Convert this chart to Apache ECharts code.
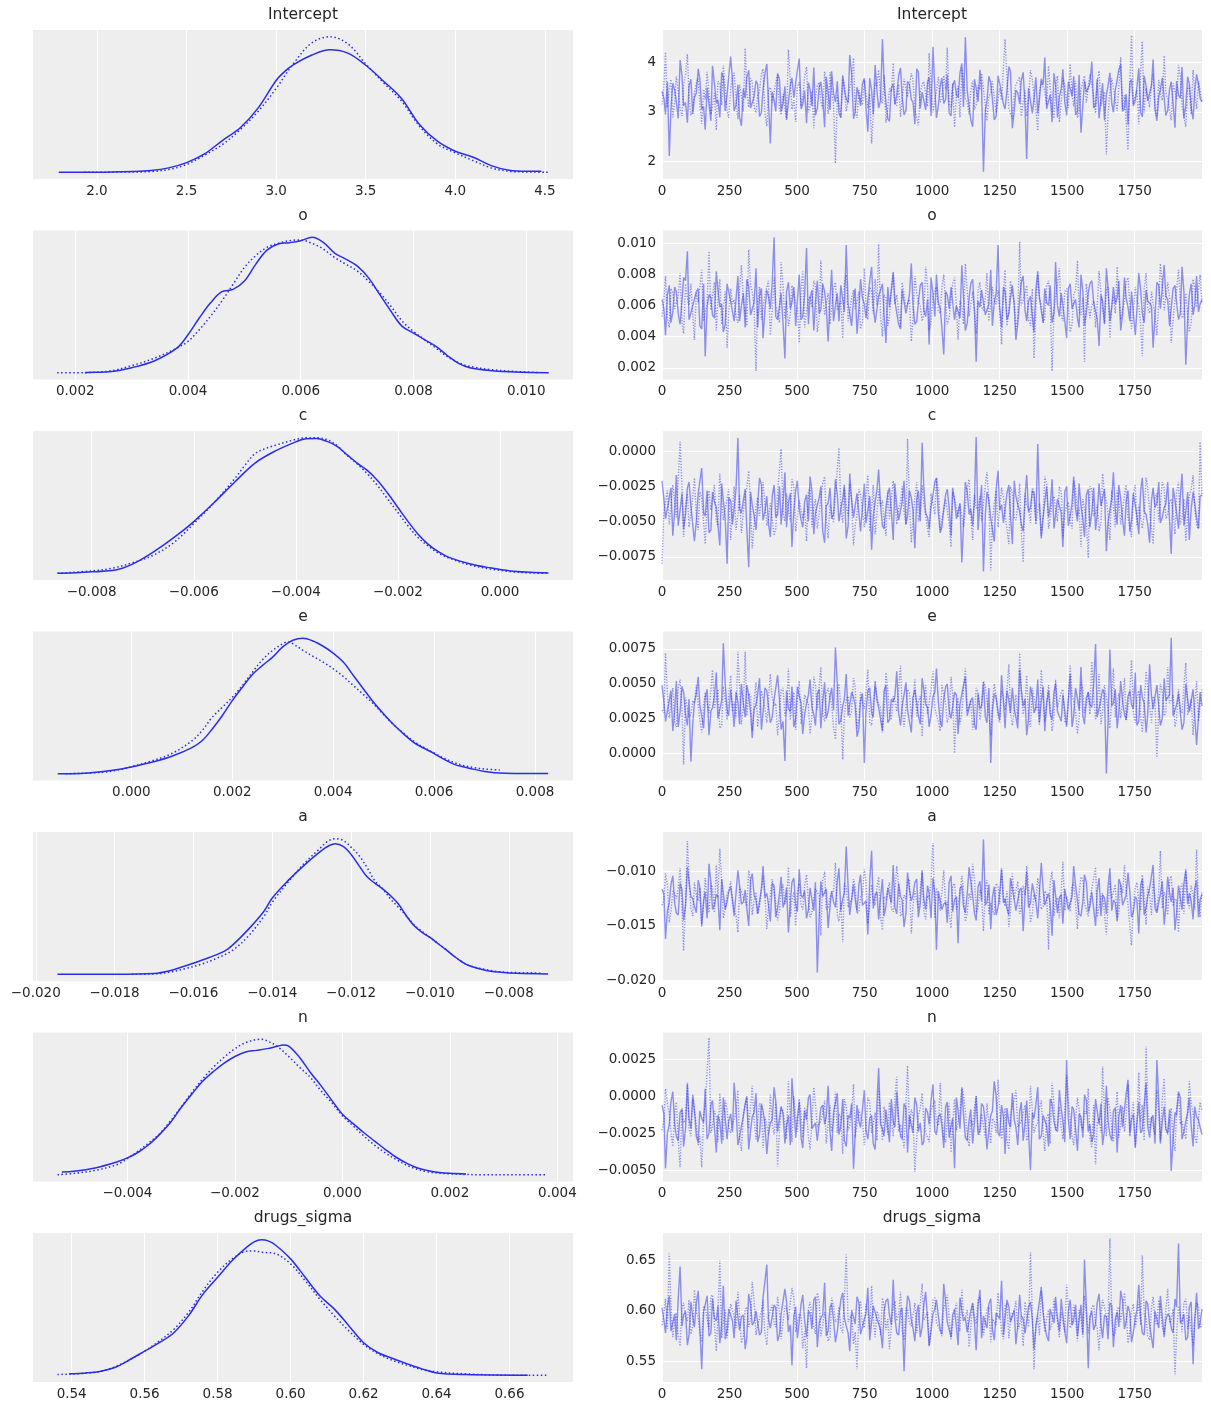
<!DOCTYPE html>
<html><head><meta charset="utf-8">
<script src="https://cdn.jsdelivr.net/npm/echarts@6/dist/echarts.min.js"></script>
<style>html,body{margin:0;padding:0;background:#fff}#chart{width:1211px;height:1411px}</style>
</head><body><div id="chart"></div>
<script>
// ---------------- DATA ----------------
const paramNames = ['Intercept', 'o', 'c', 'e', 'a', 'n', 'drugs_sigma'];
// unit multipliers for the values stored below (o..n are stored in units of 1e-3)
const valueUnits = [1, 1e-3, 1e-3, 1e-3, 1e-3, 1e-3, 1];
const drawsPerChain = 2000;

// tick labels
const interceptKdeTicks = [2.0, 2.5, 3.0, 3.5, 4.0, 4.5];
const interceptTraceTicks = [2, 3, 4];
const oKdeTicks = [0.002, 0.004, 0.006, 0.008, 0.010];
const oTraceTicks = [0.002, 0.004, 0.006, 0.008, 0.010];
const cKdeTicks = [-0.008, -0.006, -0.004, -0.002, 0];
const cTraceTicks = [-0.0075, -0.005, -0.0025, 0];
const eKdeTicks = [0, 0.002, 0.004, 0.006, 0.008];
const eTraceTicks = [0, 0.0025, 0.005, 0.0075];
const aKdeTicks = [-0.020, -0.018, -0.016, -0.014, -0.012, -0.010, -0.008];
const aTraceTicks = [-0.020, -0.015, -0.010];
const nKdeTicks = [-0.004, -0.002, 0, 0.002, 0.004];
const nTraceTicks = [-0.005, -0.0025, 0, 0.0025];
const sigmaKdeTicks = [0.54, 0.56, 0.58, 0.60, 0.62, 0.64, 0.66];
const sigmaTraceTicks = [0.55, 0.60, 0.65];
const traceXTicks = [0, 250, 500, 750, 1000, 1250, 1500, 1750];

// KDE curves: [value, relative density]
const interceptKde1 = [[1.787,0],[2.0,0],[2.2,0.005],[2.3,0.012],[2.4,0.032],[2.5,0.071],[2.6,0.135],[2.7,0.234],[2.8,0.328],[2.9,0.475],[3.0,0.677],[3.05,0.746],[3.1,0.796],[3.2,0.865],[3.3,0.904],[3.4,0.879],[3.5,0.79],[3.6,0.672],[3.7,0.544],[3.8,0.352],[3.9,0.229],[4.0,0.155],[4.1,0.111],[4.2,0.049],[4.3,0.015],[4.4,0.007],[4.48,0.007]];
const interceptKde2 = [[1.93,0],[2.2,0.002],[2.3,0.005],[2.4,0.02],[2.5,0.057],[2.6,0.126],[2.7,0.204],[2.8,0.315],[2.9,0.45],[3.0,0.618],[3.1,0.808],[3.2,0.956],[3.3,1.0],[3.4,0.948],[3.5,0.80],[3.6,0.66],[3.7,0.525],[3.8,0.34],[3.9,0.209],[4.0,0.143],[4.1,0.086],[4.2,0.032],[4.3,0.007],[4.4,0.002],[4.52,0]];
const oKde1 = [[2.17,0],[2.2,0.002],[2.6,0.007],[3.0,0.037],[3.4,0.087],[3.8,0.181],[4.0,0.28],[4.2,0.404],[4.4,0.516],[4.6,0.598],[4.8,0.615],[5.0,0.677],[5.2,0.80],[5.4,0.905],[5.6,0.95],[5.8,0.96],[6.0,0.975],[6.2,1.0],[6.4,0.963],[6.6,0.883],[6.8,0.839],[7.0,0.789],[7.2,0.702],[7.4,0.578],[7.6,0.454],[7.8,0.342],[8.0,0.293],[8.2,0.243],[8.4,0.194],[8.6,0.127],[8.8,0.069],[9.0,0.037],[9.4,0.015],[9.8,0.005],[10.4,0]];
const oKde2 = [[1.68,0],[2.0,0],[2.6,0.012],[3.0,0.052],[3.4,0.107],[3.8,0.181],[4.0,0.231],[4.2,0.318],[4.4,0.417],[4.6,0.529],[4.8,0.653],[5.0,0.777],[5.2,0.864],[5.4,0.926],[5.6,0.955],[5.8,0.975],[6.0,0.98],[6.2,0.955],[6.4,0.913],[6.6,0.851],[6.8,0.801],[7.0,0.752],[7.2,0.677],[7.4,0.591],[7.6,0.491],[7.8,0.38],[8.0,0.305],[8.2,0.243],[8.4,0.181],[8.6,0.119],[8.8,0.074],[9.0,0.047],[9.4,0.022],[9.8,0.01],[10.2,0.002]];
const cKde1 = [[-8.67,0],[-8.6,0],[-8.0,0.01],[-7.6,0.02],[-7.4,0.037],[-7.2,0.067],[-7.0,0.107],[-6.6,0.206],[-6.2,0.318],[-6.0,0.381],[-5.6,0.522],[-5.2,0.672],[-4.8,0.813],[-4.4,0.903],[-4.0,0.97],[-3.8,0.993],[-3.6,0.995],[-3.4,0.975],[-3.2,0.938],[-3.0,0.876],[-2.8,0.813],[-2.6,0.759],[-2.4,0.684],[-2.2,0.59],[-2.0,0.485],[-1.8,0.381],[-1.6,0.286],[-1.4,0.211],[-1.2,0.157],[-1.0,0.117],[-0.6,0.07],[-0.2,0.04],[0.2,0.017],[0.6,0.007],[0.95,0.002]];
const cKde2 = [[-8.67,0],[-8.0,0.017],[-7.6,0.037],[-7.2,0.077],[-6.8,0.132],[-6.4,0.224],[-6.0,0.366],[-5.6,0.522],[-5.2,0.697],[-5.0,0.796],[-4.8,0.883],[-4.6,0.92],[-4.4,0.945],[-4.0,0.988],[-3.8,1.0],[-3.6,1.0],[-3.4,0.988],[-3.2,0.945],[-3.0,0.871],[-2.8,0.808],[-2.6,0.734],[-2.4,0.647],[-2.2,0.547],[-2.0,0.448],[-1.8,0.348],[-1.6,0.261],[-1.4,0.199],[-1.2,0.147],[-1.0,0.112],[-0.6,0.062],[-0.2,0.032],[0.2,0.012],[0.6,0.002],[0.95,0]];
const eKde1 = [[-1.46,0],[-1.0,0.002],[-0.6,0.015],[-0.2,0.035],[0.0,0.05],[0.4,0.084],[0.8,0.129],[1.2,0.193],[1.4,0.243],[1.6,0.329],[1.8,0.428],[2.0,0.54],[2.2,0.639],[2.4,0.733],[2.6,0.8],[2.8,0.861],[3.0,0.936],[3.2,0.985],[3.4,1.0],[3.6,0.98],[3.8,0.941],[4.0,0.891],[4.2,0.824],[4.4,0.725],[4.6,0.626],[4.8,0.527],[5.0,0.441],[5.2,0.361],[5.4,0.292],[5.6,0.23],[5.8,0.188],[6.0,0.149],[6.2,0.106],[6.4,0.069],[6.6,0.05],[6.8,0.032],[7.0,0.017],[7.2,0.007],[7.6,0.002],[8.26,0.002]];
const eKde2 = [[-1.3,0],[-0.6,0.01],[-0.2,0.032],[0.0,0.052],[0.4,0.094],[0.8,0.149],[1.2,0.243],[1.4,0.317],[1.6,0.416],[1.8,0.49],[2.0,0.564],[2.2,0.651],[2.4,0.75],[2.6,0.842],[2.8,0.911],[3.0,0.96],[3.1,0.973],[3.2,0.96],[3.4,0.911],[3.6,0.866],[3.8,0.824],[4.0,0.775],[4.2,0.718],[4.4,0.651],[4.6,0.584],[4.8,0.515],[5.0,0.436],[5.2,0.361],[5.4,0.297],[5.6,0.238],[5.8,0.193],[6.0,0.153],[6.2,0.114],[6.4,0.082],[6.6,0.059],[6.8,0.045],[7.0,0.035],[7.3,0.027]];
const aKde1 = [[-19.45,0],[-18.0,0],[-17.0,0.005],[-16.6,0.025],[-16.2,0.062],[-16.0,0.081],[-15.6,0.123],[-15.2,0.173],[-15.0,0.217],[-14.6,0.333],[-14.2,0.469],[-14.0,0.563],[-13.6,0.691],[-13.2,0.802],[-12.8,0.901],[-12.6,0.943],[-12.4,0.963],[-12.2,0.943],[-12.0,0.884],[-11.8,0.802],[-11.6,0.721],[-11.4,0.672],[-11.2,0.63],[-11.0,0.58],[-10.8,0.519],[-10.6,0.432],[-10.4,0.358],[-10.2,0.309],[-10.0,0.272],[-9.8,0.227],[-9.6,0.183],[-9.4,0.136],[-9.2,0.094],[-9.0,0.062],[-8.6,0.03],[-8.2,0.015],[-7.8,0.007],[-7.0,0.002]];
const aKde2 = [[-17.56,0],[-17.0,0.002],[-16.6,0.015],[-16.2,0.042],[-15.8,0.074],[-15.4,0.119],[-15.0,0.178],[-14.6,0.284],[-14.2,0.432],[-14.0,0.531],[-13.6,0.679],[-13.2,0.815],[-12.8,0.926],[-12.6,0.98],[-12.4,1.0],[-12.2,0.988],[-12.0,0.938],[-11.8,0.877],[-11.6,0.79],[-11.4,0.691],[-11.2,0.63],[-11.0,0.556],[-10.8,0.494],[-10.6,0.432],[-10.4,0.365],[-10.2,0.316],[-10.0,0.272],[-9.8,0.227],[-9.6,0.183],[-9.4,0.136],[-9.2,0.094],[-9.0,0.064],[-8.6,0.035],[-8.2,0.017],[-7.8,0.012],[-7.4,0.01],[-7.2,0.007]];
const nKde1 = [[-5.22,0.02],[-5.0,0.025],[-4.6,0.05],[-4.2,0.094],[-4.0,0.124],[-3.8,0.166],[-3.6,0.223],[-3.4,0.298],[-3.2,0.385],[-3.0,0.496],[-2.8,0.596],[-2.6,0.69],[-2.4,0.762],[-2.2,0.824],[-2.0,0.873],[-1.8,0.906],[-1.6,0.918],[-1.4,0.931],[-1.2,0.95],[-1.1,0.958],[-1.0,0.95],[-0.8,0.868],[-0.6,0.757],[-0.4,0.658],[-0.2,0.551],[0.0,0.447],[0.2,0.377],[0.4,0.31],[0.6,0.248],[0.8,0.186],[1.0,0.129],[1.2,0.084],[1.4,0.05],[1.6,0.03],[1.8,0.017],[2.0,0.01],[2.3,0.005]];
const nKde2 = [[-5.3,0],[-5.0,0.01],[-4.6,0.032],[-4.2,0.074],[-4.0,0.119],[-3.8,0.174],[-3.6,0.236],[-3.4,0.303],[-3.2,0.397],[-3.0,0.501],[-2.8,0.608],[-2.6,0.707],[-2.4,0.794],[-2.2,0.868],[-2.0,0.931],[-1.8,0.975],[-1.6,0.998],[-1.5,1.0],[-1.4,0.988],[-1.2,0.943],[-1.0,0.873],[-0.8,0.794],[-0.6,0.72],[-0.4,0.62],[-0.2,0.533],[0.0,0.434],[0.2,0.36],[0.4,0.285],[0.6,0.218],[0.8,0.161],[1.0,0.112],[1.2,0.069],[1.4,0.04],[1.6,0.02],[2.0,0.007],[2.6,0],[3.2,0],[3.8,0]];
const sigmaKde1 = [[0.5393,0.01],[0.544,0.017],[0.548,0.03],[0.552,0.059],[0.556,0.116],[0.56,0.178],[0.564,0.24],[0.568,0.314],[0.572,0.438],[0.576,0.599],[0.58,0.723],[0.584,0.847],[0.588,0.946],[0.59,0.985],[0.592,1.0],[0.594,0.99],[0.596,0.958],[0.6,0.859],[0.604,0.723],[0.608,0.587],[0.612,0.488],[0.616,0.364],[0.62,0.24],[0.624,0.166],[0.628,0.124],[0.632,0.084],[0.636,0.047],[0.64,0.017],[0.648,0.005],[0.665,0]];
const sigmaKde2 = [[0.5361,0.005],[0.544,0.015],[0.548,0.03],[0.552,0.064],[0.556,0.116],[0.56,0.178],[0.564,0.252],[0.568,0.339],[0.572,0.463],[0.576,0.624],[0.58,0.76],[0.584,0.859],[0.588,0.916],[0.59,0.918],[0.592,0.908],[0.596,0.896],[0.6,0.822],[0.604,0.698],[0.608,0.562],[0.612,0.438],[0.616,0.327],[0.62,0.228],[0.624,0.158],[0.628,0.109],[0.632,0.074],[0.636,0.042],[0.64,0.025],[0.648,0.01],[0.66,0],[0.6705,0]];

// Trace values (subsampled draws). "A" arrays = even sample slots, "B" arrays = odd sample slots.
const interceptChain1A = [3.42,2.95,2.11,3.58,3.21,4.05,3.12,2.78,3.66,3.30,3.87,3.05,2.64,3.49,3.93,3.18,2.89,3.71,3.36,4.12,3.02,3.55,2.72,3.28,3.84,3.10,3.63,2.91,3.45,3.97,2.36,3.24,3.78,3.01,3.52,2.83,3.69,3.33,4.08,3.15,2.77,3.46,3.90,3.07,3.61,2.69,3.39,3.82,3.20,2.98,3.74,3.27,4.15,2.86,3.50,3.12,3.68,2.60,3.43,3.95,3.08,4.47,3.19,2.81,3.57,3.34,3.89,2.94,3.62,3.25,2.75,3.81,3.40,3.04,3.70,4.32,2.88,3.53,3.17,3.76,2.92,3.64,3.29,3.98,4.51,3.11,2.70,3.48,3.85,1.79,3.22,3.59,2.84,3.73,3.37,3.06,3.92,2.67,3.44,3.16,3.80,2.05,3.51,3.26,2.97,3.67,4.10,3.09,2.79,3.55,3.31,3.86,2.93,3.47,3.72,3.00,2.58,3.63,3.38,4.02,3.14,2.87,3.58,3.35,3.79,2.99,3.42,3.96,3.07,2.74,3.66,3.23,3.88,2.90,3.52,3.19,4.06,2.82,3.45,3.70,3.03,3.61,2.68,3.34,3.91,3.13,3.57,2.85,3.76,3.28];
const interceptChain1B = [3.28,3.61,3.05,3.44,2.87,3.73,3.19,3.52,2.96,3.38,3.67,3.11,3.49,2.82,3.58,3.24,3.80,3.02,3.35,3.63,3.14,2.90,3.47,3.70,3.08,3.31,3.56,2.99,3.77,3.22,3.40,3.01,3.65,3.17,2.85,3.54,3.29,3.83,3.06,3.43,3.59,3.12,2.93,3.50,3.26,3.71,3.04,3.37,3.62,2.88,3.45,3.18,3.76,3.00,3.33,3.57,3.09,3.68,2.95,3.41,3.23,3.64,2.86,3.48,3.15,3.74,3.30,3.03,3.55,3.20,3.87,3.07,3.36,3.60,2.92,3.46,3.13,3.69,3.25,2.98,3.53,3.34,3.79,3.10,3.42,2.84,3.66,3.21,3.51,3.04,3.72,3.27,2.91,3.58,3.16,3.44,3.82,3.02,3.39,3.63,3.11,3.48,2.97,3.70,3.24,3.55,3.06,3.35,3.78,2.89,3.47,3.19,3.61,3.32,2.94,3.75,3.14,3.40,3.57,3.08,3.67,3.26,2.83,3.52,3.18,3.43,3.85,3.01,3.36,3.60,3.12,3.49,2.99,3.73,3.22,3.54,3.05,3.31,3.69,2.93,3.46,3.17,3.62,3.28,2.87,3.71,3.09,3.41,3.56,3.20];
const interceptChain2A = [3.15,4.21,3.48,2.89,3.72,3.06,3.54,4.17,2.93,3.39,3.68,2.76,3.25,3.83,3.11,2.63,3.57,3.94,3.02,3.46,3.79,2.85,3.33,4.29,3.09,3.62,2.98,3.41,3.87,2.71,3.50,3.18,3.75,2.94,3.37,4.26,3.05,2.80,3.60,3.28,3.91,3.12,2.67,3.53,3.22,3.81,2.96,3.44,1.96,3.35,3.70,3.01,3.49,4.09,2.88,3.26,3.64,3.08,2.36,3.58,3.85,3.17,2.78,3.47,3.99,3.13,2.90,3.67,3.30,3.78,3.04,2.73,3.56,3.36,4.19,2.99,3.43,3.20,3.74,4.30,3.10,2.69,3.52,3.89,3.27,2.95,3.63,3.14,3.45,3.81,2.82,3.39,3.66,3.00,3.24,4.47,3.07,2.86,3.55,3.71,3.19,2.91,3.84,3.32,2.62,3.61,3.42,3.93,3.05,3.50,2.79,3.68,3.23,3.97,3.11,2.88,3.46,3.73,3.16,3.58,2.97,3.83,3.29,2.14,3.40,3.65,3.02,4.11,3.34,2.23,4.55,3.21,2.75,4.43,3.48,3.09,3.77,2.92,3.38,4.14,3.26,2.83,3.60,3.95,3.12,2.70,3.53,3.85,3.06,3.44];
const interceptChain2B = [3.52,3.09,3.66,3.21,3.43,2.92,3.75,3.30,3.04,3.58,3.17,3.46,3.81,2.95,3.38,3.62,3.13,3.49,2.88,3.70,3.26,3.55,3.01,3.40,3.68,3.10,3.33,3.77,2.97,3.45,3.19,3.59,3.06,3.36,2.84,3.64,3.24,3.51,3.12,3.72,2.99,3.42,3.29,3.60,3.07,3.48,3.80,3.15,3.34,2.90,3.57,3.23,3.69,3.02,3.44,3.14,3.63,3.37,2.94,3.53,3.28,3.74,3.08,3.41,3.18,3.56,2.86,3.47,3.31,3.65,3.03,3.39,3.61,3.11,3.50,2.96,3.71,3.25,3.45,3.16,3.58,3.35,2.89,3.67,3.20,3.43,3.05,3.54,3.78,3.13,3.32,3.62,2.98,3.48,3.22,3.70,3.10,3.37,3.55,2.91,3.44,3.27,3.66,3.04,3.39,3.59,3.14,3.49,2.87,3.73,3.21,3.52,3.08,3.34,3.63,3.00,3.46,3.19,3.76,3.29,3.57,3.12,3.41,2.93,3.68,3.24,3.50,3.06,3.36,3.61,3.17,3.44,3.83,2.99,3.30,3.54,3.11,3.65,3.23,3.40,3.02,3.58,3.26,3.71,3.15,3.47,2.95,3.38,3.62,3.20];
const oChain1A = [6.4,4.1,7.3,5.6,6.9,4.8,7.8,9.5,5.2,6.1,7.1,4.5,2.75,6.7,5.4,8.2,5.9,4.3,7.4,6.3,5.0,7.9,6.0,4.6,7.2,5.5,8.4,6.6,3.9,7.0,5.8,10.4,5.1,6.8,2.6,7.5,6.2,4.7,8.0,5.3,9.7,6.5,4.4,7.6,5.7,6.9,3.7,8.3,6.0,5.0,7.3,9.9,5.5,6.4,4.2,7.7,6.1,5.2,8.5,4.9,6.6,7.4,3.6,5.9,8.1,6.3,4.5,7.0,5.6,8.7,4.8,6.2,7.5,5.3,3.5,6.8,8.0,5.8,2.86,6.7,7.2,5.1,6.0,8.6,4.4,6.5,7.7,2.4,5.9,7.0,5.4,8.3,6.2,9.9,4.6,6.9,5.5,7.3,3.8,6.4,7.9,5.0,6.6,4.3,8.2,5.7,7.1,6.0,4.9,8.8,5.3,6.7,3.9,7.4,6.1,5.2,8.0,4.7,6.8,7.6,5.6,3.4,6.3,8.4,5.0,7.2,6.5,4.4,7.8,5.9,6.9,4.1,8.1,5.5,7.0,6.2,3.3,7.5,5.8,8.6,6.4,4.8,7.3,5.1,8.5,2.2,6.7,5.4,7.9,6.1];
const oChain1B = [5.8,6.7,4.9,7.2,5.5,6.3,7.6,5.1,6.0,6.9,4.7,7.4,5.9,6.5,5.2,7.0,6.1,4.8,7.3,5.6,6.4,5.0,6.8,7.7,5.4,6.2,4.6,7.1,5.7,6.6,7.5,5.3,6.0,4.9,6.9,5.8,7.2,6.3,5.1,6.7,4.8,7.0,6.2,5.5,7.4,5.9,6.4,5.0,6.8,7.3,5.6,6.1,4.7,7.1,5.8,6.5,5.2,7.6,6.0,4.9,6.6,5.4,7.2,5.9,6.3,4.8,7.0,5.5,6.7,6.1,5.0,7.3,5.7,6.4,7.8,5.3,6.2,4.6,6.9,5.8,7.1,6.0,5.2,6.6,4.9,7.4,5.6,6.3,7.0,5.4,6.1,4.7,6.8,5.9,7.2,5.1,6.5,6.0,4.8,7.5,5.7,6.3,5.3,7.0,6.6,4.9,6.2,7.3,5.5,6.0,6.8,5.0,7.1,5.8,6.4,4.6,6.9,5.6,7.4,6.2,5.2,6.7,4.8,7.2,5.9,6.1,7.6,5.4,6.5,5.0,6.8,5.7,7.0,4.9,6.3,6.0,5.3,7.3,5.8,6.6,4.7,7.1,6.2,5.5,6.9,5.1,7.4,6.0,5.6,6.4];
const oChain2A = [5.3,7.9,4.6,6.8,5.9,8.1,4.2,6.5,7.4,3.8,6.2,8.3,5.1,9.5,6.6,4.4,7.7,5.8,3.3,7.1,6.4,4.9,8.6,5.5,9.6,6.9,1.8,7.2,5.0,6.7,4.1,7.8,6.0,8.8,5.2,4.7,7.3,6.1,3.6,8.2,5.7,6.6,7.6,4.3,8.9,5.4,6.8,4.8,7.5,6.0,3.9,8.0,5.6,7.0,6.3,4.5,8.4,5.1,6.9,7.7,9.95,4.0,6.5,5.3,8.2,6.7,4.6,7.4,5.8,3.7,7.9,6.2,5.0,8.5,4.4,6.6,7.2,5.5,8.0,4.8,6.4,7.8,3.8,6.0,8.7,5.3,6.9,4.2,7.5,5.7,8.1,4.9,6.3,7.0,3.5,8.3,5.6,6.8,4.4,10.1,5.9,7.3,4.7,2.6,8.0,6.1,5.2,7.6,1.8,6.5,8.4,5.0,7.1,4.3,6.7,8.9,5.4,2.4,7.4,6.0,4.6,8.2,5.8,7.0,3.9,6.6,8.5,5.1,6.3,7.8,4.5,7.2,6.0,2.75,8.1,5.5,6.9,4.1,8.7,5.7,7.5,3.6,6.4,8.3,5.2,6.8,4.3,7.7,5.9,8.0];
const oChain2B = [6.3,5.2,7.1,5.8,6.6,4.9,7.4,6.0,5.4,6.8,7.2,5.0,6.2,5.7,7.5,6.4,4.8,6.9,5.5,6.1,5.3,7.0,6.5,4.7,7.3,5.9,6.2,5.1,6.7,7.6,5.6,6.0,4.9,7.2,6.3,5.4,6.8,5.8,7.0,4.6,6.4,5.9,7.3,5.2,6.6,6.1,4.8,7.1,5.7,6.3,7.4,5.0,6.5,5.8,6.9,4.9,6.2,7.2,5.5,6.0,5.3,6.7,4.7,7.0,6.1,5.6,7.5,5.9,6.4,5.1,6.8,6.0,5.4,7.3,4.9,6.6,5.7,7.1,6.2,5.2,7.4,5.8,6.3,4.8,6.9,6.0,5.5,7.0,5.9,6.5,5.0,7.2,6.1,5.6,6.7,4.7,7.6,6.3,5.3,6.0,6.8,5.1,7.1,5.8,6.4,4.9,7.3,6.2,5.7,6.6,5.4,6.9,6.0,4.8,7.0,5.6,6.5,7.4,5.2,6.3,5.9,6.8,4.9,7.2,6.1,5.5,6.7,5.0,7.5,6.0,5.7,6.4,4.7,7.1,5.8,6.9,5.3,6.2,7.3,5.6,6.5,5.1,7.0,6.3,5.4,6.8,4.9,7.2,5.9,6.1];
const cChain1A = [-2.1,-4.8,-3.3,-6.0,-1.7,-4.2,-5.5,-2.6,-3.9,-6.4,-3.0,-1.2,-4.6,-5.8,-2.9,-4.0,-6.7,-2.2,-8.0,-3.5,-5.1,0.94,-4.4,-2.7,-8.24,-3.8,-5.6,-1.9,-4.9,-3.2,-6.1,-2.4,-4.5,-5.2,-1.5,-3.6,-6.8,-2.8,-4.1,-5.4,-3.1,-1.8,-5.9,-4.3,-2.5,-6.5,-3.7,-4.8,-2.0,-5.0,-3.4,-6.2,-1.6,-4.7,-3.0,-5.7,-2.3,-4.2,-7.0,-3.6,-1.3,-5.3,-4.0,-2.6,-6.3,-3.9,-5.0,-2.1,-4.6,-3.3,-6.9,-2.8,0.6,-4.4,-5.5,-3.1,-1.9,-5.8,-4.1,-2.7,-6.0,-3.5,-4.9,-7.9,-2.2,-4.5,-5.3,1.0,-3.7,-8.55,-2.9,-4.8,-6.4,-1.4,-3.8,-5.1,-2.4,-6.6,-3.2,-4.3,-5.7,-1.7,-4.0,-3.0,0.5,-6.2,-3.6,-4.7,-2.0,-5.4,-3.3,-6.8,-2.5,-4.6,-1.8,-5.0,-3.9,-6.1,-2.7,-4.4,-5.6,-2.3,-3.8,-7.1,-4.2,-1.5,-5.2,-3.4,-6.0,-2.8,-4.9,-3.1,-5.9,-1.9,-4.5,-6.5,-2.6,-3.7,-5.1,-4.0,-2.2,-7.3,-3.5,-5.5,-1.6,-4.3,-6.3,-2.9,-4.7,-3.2];
const cChain1B = [-3.4,-4.9,-2.6,-4.2,-5.3,-3.0,-4.5,-2.2,-3.8,-5.0,-3.1,-4.4,-2.8,-5.6,-3.6,-4.0,-2.3,-4.8,-3.3,-5.2,-2.7,-4.1,-3.5,-5.5,-2.9,-4.6,-3.9,-2.4,-4.3,-5.1,-3.2,-4.7,-2.5,-3.7,-5.4,-3.0,-4.2,-2.1,-4.9,-3.6,-5.0,-2.8,-4.4,-3.3,-5.7,-3.9,-2.6,-4.5,-3.1,-4.1,-2.4,-5.3,-3.5,-4.8,-2.9,-4.0,-5.1,-3.2,-4.6,-2.7,-3.8,-5.5,-3.0,-4.3,-2.3,-4.9,-3.6,-5.2,-2.8,-4.2,-3.4,-5.0,-2.5,-4.7,-3.9,-2.2,-4.4,-5.4,-3.1,-4.0,-2.6,-4.8,-3.7,-5.3,-2.9,-4.1,-3.3,-5.6,-2.4,-4.5,-3.5,-4.9,-2.7,-4.2,-5.1,-3.0,-4.6,-2.1,-3.8,-5.2,-3.2,-4.3,-2.8,-5.0,-3.6,-4.7,-2.5,-4.0,-5.5,-3.4,-4.4,-2.9,-5.3,-3.7,-4.1,-2.3,-4.8,-3.1,-5.4,-2.6,-4.5,-3.9,-2.7,-5.1,-3.3,-4.2,-2.4,-4.9,-3.6,-5.7,-3.0,-4.6,-2.8,-4.3,-5.2,-3.5,-4.0,-2.2,-4.7,-3.8,-5.0,-2.6,-4.4,-3.2,-5.3,-2.9,-4.1,-3.7,-5.5,-3.1];
const cChain2A = [-8.0,-3.6,-5.2,-2.4,-4.7,0.66,-6.1,-3.0,-4.4,-1.9,-5.6,-3.3,-6.6,-2.8,-4.1,-5.0,-1.6,-4.9,-3.4,-6.3,-2.5,-4.5,-5.8,-3.1,-1.4,-6.9,-3.9,-4.6,-2.2,-5.3,-3.7,-6.0,-2.9,0.16,-5.0,-4.2,-2.0,-5.7,-3.5,-4.8,-6.4,-2.6,-4.0,-5.5,-3.2,-1.8,-6.2,-4.3,-3.0,0.24,-5.1,-3.8,-2.3,-6.7,-4.5,-3.1,-5.4,-1.7,-4.1,-5.9,-2.7,-3.5,-6.0,-4.8,-2.1,-5.2,-3.6,-4.4,0.87,-6.5,-3.3,-5.0,-2.4,-4.6,-6.1,-3.0,-1.9,-5.6,-4.2,-3.4,-6.8,-2.8,-4.7,-3.9,-5.3,-2.0,-6.3,-4.0,-3.2,-5.0,-1.5,-8.47,-3.7,-5.4,-2.6,-4.5,-6.6,-3.0,-4.9,-2.3,-7.9,-3.8,-5.1,-2.9,-4.3,-6.0,-1.8,-5.5,-3.5,-4.1,-2.5,-6.2,-3.9,-5.0,-2.1,-4.6,-6.8,-3.3,-7.6,-2.7,-4.4,-5.7,-1.6,-3.6,-6.3,-4.0,-2.8,-5.2,-3.1,-4.7,-6.1,-2.4,-3.8,-5.5,-1.9,-4.2,-6.6,-3.0,-5.0,-2.6,-4.5,-3.4,-5.9,-2.2,-4.8,-6.4,-3.2,-1.7,-5.3,0.66];
const cChain2B = [-4.3,-2.8,-5.1,-3.6,-4.7,-2.5,-4.0,-5.4,-3.2,-4.5,-2.9,-5.0,-3.8,-4.2,-2.4,-5.3,-3.4,-4.8,-2.7,-4.1,-5.6,-3.1,-4.4,-2.6,-3.9,-5.2,-3.3,-4.6,-2.2,-4.9,-3.7,-5.5,-2.8,-4.3,-3.0,-5.0,-2.5,-4.7,-3.6,-4.1,-2.9,-5.4,-3.4,-4.5,-2.3,-4.8,-3.8,-5.1,-3.1,-4.0,-2.6,-4.6,-3.5,-5.3,-2.7,-4.2,-3.2,-5.7,-2.4,-4.4,-3.9,-5.0,-2.8,-4.7,-3.3,-4.1,-2.5,-5.2,-3.6,-4.9,-2.2,-4.3,-3.7,-5.5,-3.0,-4.5,-2.7,-4.8,-3.4,-5.1,-2.9,-4.0,-3.8,-5.4,-2.6,-4.6,-3.1,-4.2,-5.0,-2.4,-3.5,-4.9,-2.8,-5.3,-3.3,-4.4,-2.5,-4.7,-3.9,-5.6,-3.0,-4.1,-2.6,-5.2,-3.7,-4.5,-2.3,-4.8,-3.2,-5.0,-2.9,-4.3,-3.6,-5.5,-2.7,-4.0,-3.4,-4.9,-2.5,-4.6,-3.8,-5.1,-3.0,-4.4,-2.8,-5.4,-3.5,-4.2,-2.4,-4.7,-3.1,-5.3,-3.9,-4.5,-2.6,-4.1,-3.3,-5.0,-2.2,-4.8,-3.6,-4.3,-2.9,-5.2,-3.4,-4.6,-2.7,-4.0,-5.5,-3.2];
const eChain1A = [4.9,2.3,3.8,1.6,5.2,3.0,4.4,2.0,-0.6,3.6,5.5,2.7,4.0,1.3,3.3,5.8,2.4,7.9,3.1,4.6,1.9,3.7,5.0,2.6,4.2,1.1,3.5,5.4,2.9,4.5,2.2,3.9,5.6,1.7,-0.55,3.2,4.8,2.5,4.1,1.4,3.6,5.3,2.8,4.3,1.8,5.1,3.0,4.7,7.6,2.1,3.4,5.7,2.6,4.0,1.2,3.8,-0.7,4.5,2.9,5.2,3.3,1.6,4.9,2.4,3.7,5.9,2.0,4.2,3.1,1.5,4.6,2.7,5.4,3.5,1.9,4.1,6.1,2.3,3.9,5.0,2.5,4.4,1.4,3.6,5.5,2.8,4.0,1.7,3.2,5.1,2.2,-0.7,4.3,3.0,5.6,1.8,3.8,4.7,2.6,6.0,3.4,1.3,4.8,2.9,5.3,3.7,1.6,4.5,2.4,5.0,3.1,4.2,1.9,5.7,2.7,3.9,6.2,2.1,4.4,3.3,7.85,2.5,4.6,-1.45,7.45,3.6,1.8,5.2,2.8,4.1,3.5,5.8,2.3,4.0,1.5,6.4,3.2,4.9,2.0,5.4,3.7,8.3,2.6,4.3,1.7,5.0,3.0,4.6,0.6,4.4];
const eChain1B = [3.7,2.4,4.5,3.1,1.9,4.8,2.8,3.9,2.2,4.3,3.5,1.8,4.6,3.0,4.1,2.5,3.8,5.0,2.7,3.3,4.4,2.1,3.6,4.9,2.9,3.2,4.2,1.7,4.7,3.4,2.6,4.0,3.8,2.3,4.5,3.0,1.9,4.8,3.6,2.8,4.2,3.3,2.0,4.6,3.7,2.5,4.1,3.1,4.9,2.4,3.9,2.7,4.4,3.5,1.8,4.3,3.0,4.7,2.6,3.8,3.2,4.5,2.2,3.9,4.1,2.9,3.4,5.1,2.3,4.0,3.6,2.1,4.6,3.3,2.8,4.4,3.7,1.9,4.8,3.1,2.5,4.2,3.5,4.9,2.7,3.8,2.0,4.3,3.4,2.6,4.7,3.0,4.0,2.4,3.7,4.5,2.9,3.2,1.8,4.6,3.9,2.5,4.1,3.3,2.2,4.8,3.6,2.8,4.4,3.0,2.3,4.2,3.8,1.9,4.7,3.1,2.7,4.0,3.5,5.0,2.6,3.9,4.3,2.1,3.4,4.6,2.9,3.7,2.4,4.5,3.2,2.0,4.9,3.6,2.8,4.1,3.3,4.8,2.5,3.8,4.2,2.7,3.5,4.4,2.2,3.9,3.0,4.7,2.6,3.4];
const eChain2A = [3.1,7.2,2.5,4.7,1.9,5.3,-0.8,4.1,2.8,3.6,5.0,1.5,4.4,2.9,6.0,3.3,1.8,4.8,2.4,5.6,3.7,7.3,2.1,7.3,4.3,1.6,5.1,3.0,4.6,2.2,5.7,3.4,1.3,4.5,2.7,6.1,3.8,1.7,5.2,2.9,4.2,1.4,5.5,3.1,6.2,2.3,4.7,3.6,1.0,5.0,-0.45,3.9,2.6,5.4,1.8,4.4,3.2,6.0,2.0,4.8,3.5,1.5,5.8,2.8,4.1,3.0,6.3,1.9,4.6,2.5,5.3,3.7,1.2,4.9,2.7,5.9,3.3,1.6,4.3,2.2,5.5,0.0,4.0,2.9,6.1,3.4,1.7,4.7,2.4,5.2,3.8,1.3,5.0,2.6,4.5,3.1,6.4,2.0,4.2,7.2,2.8,5.6,1.9,4.0,3.5,6.0,2.3,4.9,1.6,5.3,3.2,4.6,2.1,6.3,3.7,1.4,5.1,2.9,4.4,6.6,2.4,5.7,3.0,4.8,1.8,6.1,3.6,2.5,5.4,3.3,6.7,2.2,4.5,1.5,5.9,3.4,4.1,-0.3,5.0,2.7,6.2,3.8,1.9,4.6,2.9,6.5,3.1,1.3,5.2,3.5];
const eChain2B = [2.9,4.3,3.6,2.2,4.7,3.1,4.0,2.6,3.8,4.9,2.4,3.5,4.4,2.8,3.2,4.6,2.0,3.9,4.2,3.0,2.5,4.8,3.4,2.7,4.1,3.7,1.9,4.5,3.3,2.3,4.0,3.6,2.9,4.7,3.1,2.4,4.4,3.8,2.1,4.2,3.5,2.6,4.9,3.2,2.8,4.3,3.9,1.8,4.6,3.4,2.7,4.1,3.0,4.8,2.5,3.7,4.4,2.2,3.6,4.0,3.3,2.9,4.5,2.4,3.8,4.7,3.1,2.0,4.3,3.5,2.6,4.1,3.9,2.8,4.6,3.2,2.3,4.9,3.6,2.7,4.2,3.4,2.1,4.5,3.0,3.8,2.5,4.4,3.3,4.8,2.8,3.6,4.1,2.2,3.9,4.6,2.9,3.2,2.4,4.3,3.7,2.6,4.7,3.1,2.0,4.0,3.5,4.8,2.7,3.3,4.4,2.3,3.8,4.2,3.0,2.5,4.6,3.6,2.8,4.1,3.4,2.1,4.9,3.2,3.9,2.6,4.3,3.7,2.4,4.5,3.0,4.0,2.7,3.5,4.7,2.2,3.8,3.3,4.4,2.9,3.6,4.2,2.5,3.1,4.8,2.8,3.9,3.4,2.3,4.6];
const aChain1A = [-11.6,-16.2,-12.9,-10.4,-13.8,-11.1,-14.5,-9.6,-12.3,-13.2,-10.8,-14.9,-11.9,-9.3,-13.5,-12.1,-15.4,-10.6,-12.8,-11.4,-14.1,-9.9,-13.0,-11.7,-15.0,-10.2,-12.6,-13.9,-9.5,-12.0,-14.6,-11.3,-13.4,-10.5,-12.7,-15.6,-11.0,-13.1,-9.8,-12.4,-14.3,-11.5,-13.6,-19.3,-10.9,-12.2,-15.2,-11.8,-13.3,-9.7,-12.5,-7.7,-14.0,-11.2,-13.7,-10.3,-12.9,-15.8,-8.1,-12.1,-14.4,-10.7,-13.2,-11.6,-9.4,-13.9,-12.3,-15.1,-10.1,-12.7,-11.0,-14.2,-9.9,-13.5,-12.0,-10.6,-17.2,-11.8,-13.0,-14.7,-10.4,-12.6,-16.6,-11.3,-13.8,-9.6,-12.2,-14.5,-10.9,-7.07,-12.8,-15.3,-11.4,-13.3,-9.8,-12.5,-14.0,-10.5,-13.6,-11.7,-15.5,-10.0,-12.9,-11.1,-14.3,-9.2,-13.1,-12.0,-15.9,-10.8,-12.4,-14.8,-11.5,-13.4,-9.5,-12.7,-14.1,-10.3,-13.7,-11.9,-15.0,-10.6,-12.2,-13.9,-9.7,-12.6,-14.6,-11.2,-13.0,-10.1,-14.2,-12.3,-15.7,-10.7,-13.3,-11.6,-9.4,-13.8,-12.1,-14.9,-10.5,-12.8,-15.4,-11.3,-13.5,-9.9,-12.0,-14.4,-10.8,-12.6];
const aChain1B = [-12.1,-13.6,-11.2,-12.9,-14.0,-11.7,-13.2,-10.9,-12.5,-13.8,-11.4,-12.7,-14.3,-11.0,-13.1,-12.3,-10.7,-13.5,-11.9,-12.6,-14.1,-11.3,-12.8,-13.4,-10.8,-12.2,-13.9,-11.6,-12.4,-13.0,-11.1,-14.2,-12.0,-13.3,-11.5,-12.9,-10.6,-13.7,-12.2,-11.8,-13.5,-12.6,-11.0,-14.0,-12.3,-11.6,-13.2,-12.8,-10.9,-13.6,-12.0,-11.4,-13.9,-12.5,-11.2,-13.1,-12.7,-10.8,-13.4,-11.9,-12.4,-14.1,-11.5,-12.9,-13.3,-11.1,-12.6,-13.8,-11.7,-12.2,-10.7,-13.0,-12.5,-11.3,-14.3,-12.1,-11.8,-13.5,-12.8,-11.0,-13.7,-12.3,-11.6,-13.2,-12.0,-10.9,-13.9,-11.4,-12.7,-13.1,-11.2,-12.4,-14.0,-11.9,-12.9,-13.4,-10.6,-12.6,-13.6,-11.5,-12.2,-13.3,-11.1,-12.8,-14.2,-11.7,-12.5,-13.0,-10.8,-13.8,-12.1,-11.6,-13.5,-12.3,-11.3,-13.9,-12.7,-11.0,-13.2,-12.0,-11.8,-14.1,-12.4,-11.4,-13.6,-12.9,-10.7,-13.1,-12.2,-11.9,-13.7,-12.6,-11.2,-14.0,-12.3,-11.7,-13.4,-12.8,-10.9,-13.3,-12.0,-11.5,-13.8,-12.5,-11.1,-13.0,-12.7,-11.6,-14.2,-12.1];
const aChain2A = [-13.1,-10.2,-14.7,-11.8,-12.5,-9.7,-17.3,-7.2,-13.4,-11.0,-12.7,-15.1,-10.6,-13.8,-11.5,-9.4,-7.9,-14.3,-12.1,-10.9,-13.6,-15.6,-11.3,-12.8,-9.9,-14.0,-11.9,-13.2,-10.4,-15.3,-12.2,-10.8,-14.5,-11.6,-13.0,-9.6,-12.7,-15.0,-11.1,-13.5,-10.3,-14.2,-12.4,-11.7,-15.9,-10.0,-13.3,-12.0,-9.2,-14.6,-16.5,-11.4,-12.9,-10.7,-13.9,-12.3,-9.8,-14.8,-11.2,-13.1,-10.5,-15.4,-12.6,-11.0,-13.7,-9.5,-14.1,-12.2,-10.9,-15.7,-11.8,-13.4,-10.1,-14.4,-12.5,-7.4,-11.5,-13.6,-9.9,-12.8,-15.2,-11.1,-13.0,-10.4,-14.6,-12.0,-9.3,-13.8,-11.7,-15.5,-10.8,-12.9,-14.0,-11.4,-9.7,-13.2,-15.1,-10.2,-12.4,-13.9,-11.3,-9.5,-14.7,-12.1,-10.6,-13.5,-11.8,-17.2,-10.0,-12.7,-14.3,-9.1,-12.3,-13.7,-11.0,-15.3,-10.5,-12.9,-14.1,-11.6,-9.6,-13.3,-12.0,-15.8,-10.9,-12.6,-14.4,-11.2,-9.4,-13.0,-16.8,-11.5,-12.8,-10.3,-14.9,-12.2,-10.7,-13.6,-8.1,-11.9,-14.0,-10.4,-12.5,-15.6,-11.1,-9.8,-13.4,-12.1,-8.0,-14.2];
const aChain2B = [-12.6,-11.3,-13.7,-12.0,-11.6,-13.3,-12.9,-10.8,-14.1,-12.2,-11.5,-13.0,-12.7,-11.1,-13.8,-12.4,-10.9,-13.5,-11.8,-12.8,-14.0,-11.4,-12.3,-13.2,-11.0,-12.6,-13.9,-11.7,-12.1,-13.4,-10.7,-12.9,-13.6,-11.2,-12.5,-14.2,-11.9,-12.0,-13.1,-11.3,-12.7,-13.8,-11.6,-12.2,-10.8,-13.5,-12.4,-11.8,-14.0,-12.9,-11.1,-13.3,-12.6,-11.5,-13.7,-12.1,-10.9,-13.0,-12.8,-11.4,-14.1,-12.3,-11.7,-13.4,-12.0,-11.2,-13.9,-12.5,-10.7,-13.2,-12.7,-11.6,-13.6,-12.2,-11.0,-14.3,-12.4,-11.9,-13.1,-12.8,-11.3,-13.5,-12.0,-11.7,-13.8,-12.6,-10.8,-13.3,-12.1,-11.5,-14.0,-12.9,-11.1,-13.0,-12.3,-11.8,-13.7,-12.5,-10.9,-13.4,-12.2,-11.4,-13.9,-12.7,-11.6,-13.2,-12.0,-11.0,-14.1,-12.4,-11.8,-13.6,-12.8,-11.3,-13.0,-12.1,-10.7,-13.5,-12.6,-11.5,-14.2,-12.3,-11.9,-13.3,-12.5,-11.2,-13.8,-12.0,-11.7,-13.1,-12.9,-11.0,-13.6,-12.2,-11.4,-14.0,-12.6,-11.8,-13.4,-12.4,-10.8,-13.2,-12.7,-11.6,-13.9,-12.1,-11.3,-13.5,-12.8,-11.9];
const nChain1A = [-0.6,-4.87,-1.9,0.3,-2.7,-1.1,-3.4,0.8,-2.2,-0.9,-3.1,-1.5,0.5,-2.5,-0.3,-3.8,-1.7,-0.1,-2.9,-1.2,0.9,-3.3,-2.0,-0.5,-3.6,-1.4,0.2,-2.6,-1.0,-3.9,-1.8,0.6,-2.4,-0.7,-3.2,-1.3,1.2,-2.8,-0.4,-3.5,-1.6,0.1,-2.3,-3.0,-0.8,-1.9,0.7,-3.7,-1.1,-2.6,-0.2,-3.4,-1.5,-4.9,-0.6,-2.1,0.4,-2.9,-1.3,-3.6,1.9,-2.2,-0.9,-3.1,-1.7,0.3,-2.7,-0.5,-3.8,-1.4,-0.1,-2.4,-3.3,-0.8,-1.9,0.8,-2.6,-1.2,-3.5,-0.4,-2.0,-4.87,-1.0,0.5,-2.8,-1.6,-3.2,0.0,-2.3,-0.7,-3.6,-1.3,1.0,-2.5,-0.6,-3.9,-1.8,0.2,-2.1,-1.1,-3.0,-0.3,-5.0,-1.5,0.6,-2.7,-1.2,-3.4,-0.5,-2.2,0.4,-1.7,2.43,-2.9,-0.9,-3.7,-1.4,0.1,-2.4,-3.1,-0.2,-1.9,-3.3,0.7,-2.6,-1.0,-3.8,-0.6,-2.0,1.1,-1.6,-3.5,-0.4,-2.3,0.9,-2.8,-1.3,2.43,-3.2,-0.7,-2.5,-5.05,-1.1,0.3,-2.9,-1.7,-0.1,-3.4,-1.4,-2.1];
const nChain1B = [-1.2,-2.5,-0.4,-1.9,-3.0,-0.9,-2.2,-1.5,0.1,-2.7,-1.0,-1.8,-2.9,-0.6,-2.1,-1.3,-3.2,-0.2,-1.7,-2.4,-0.8,-2.8,-1.4,0.0,-2.3,-1.1,-3.1,-0.5,-1.9,-2.6,-1.6,-0.3,-2.5,-1.2,-2.0,-3.3,-0.7,-1.5,-2.8,-1.0,-0.1,-2.2,-1.8,-2.9,-0.6,-1.4,-2.4,-1.1,0.2,-2.0,-3.0,-1.3,-0.5,-2.6,-1.7,-0.9,-2.3,-1.5,-3.2,-0.4,-1.9,-2.7,-1.0,-0.2,-2.1,-1.6,-2.9,-0.8,-1.3,-2.5,-0.6,-1.8,-3.1,-1.1,-0.3,-2.4,-1.4,-2.0,-0.7,-2.8,-1.5,-0.1,-2.2,-1.2,-3.0,-0.9,-1.7,-2.6,-0.5,-1.9,-2.3,-1.0,0.0,-2.7,-1.4,-0.8,-2.1,-1.6,-3.3,-0.4,-1.8,-2.5,-1.1,-0.6,-2.9,-1.3,-2.0,-0.2,-1.7,-2.4,-0.9,-3.1,-1.5,-0.7,-2.2,-1.2,-2.8,-0.3,-1.9,-2.6,-1.0,-0.5,-2.3,-1.6,-3.0,-0.8,-1.4,-2.1,0.1,-2.7,-1.2,-1.8,-2.5,-0.6,-2.0,-1.5,-3.2,-0.4,-1.7,-2.2,-0.9,-2.9,-1.3,-0.1,-2.4,-1.1,-2.0,-0.7,-1.6,-2.6];
const nChain2A = [-2.3,0.5,-1.2,-3.4,-0.4,-4.8,-1.8,0.9,-2.7,-1.0,-3.3,-4.8,-0.6,3.95,-2.0,-1.4,0.2,-3.0,-0.9,-2.5,-1.6,0.4,-3.7,-1.1,-2.2,0.7,-2.9,-0.5,-3.5,-1.3,0.1,-2.6,-4.75,-0.8,-1.9,1.0,-3.1,-1.5,-0.2,-2.8,-1.0,-3.6,0.6,-2.1,-1.7,-0.3,-3.2,-2.4,0.3,-1.2,-3.9,-0.7,-2.0,0.8,-2.9,-1.4,-3.3,-0.1,-2.5,-1.1,0.5,-3.0,-1.6,-0.4,-2.7,1.3,-1.9,-3.5,2.05,-0.9,-5.1,-1.3,0.2,-2.4,-3.1,-0.6,-1.8,0.9,-2.8,-1.5,-3.8,-0.2,-2.2,0.6,-1.0,-3.4,-2.0,0.0,-2.6,-1.3,-0.5,-3.2,-1.7,1.1,-2.9,-0.8,-3.6,-1.4,0.4,-2.1,-1.1,-3.0,0.7,-2.5,-1.8,-0.3,-3.7,-1.2,0.9,-2.3,-0.7,-2.9,1.4,-1.6,-3.3,-0.1,-2.0,-1.0,0.5,-3.5,-4.6,-1.5,2.0,-2.7,-0.9,-3.1,0.3,-1.9,-2.4,0.8,-1.2,-3.4,1.6,-0.6,3.35,-2.2,-1.4,0.4,-3.0,1.2,-2.6,-0.8,-3.7,0.2,-1.7,-2.9,1.0,-1.1,-3.2,-0.4];
const nChain2B = [-1.7,-0.5,-2.4,-1.1,-2.9,-0.8,-1.6,-2.2,-0.2,-1.9,-2.7,-1.3,-0.6,-2.5,-1.0,-3.1,-1.5,-0.3,-2.1,-1.8,-0.9,-2.8,-1.2,-0.1,-2.3,-1.6,-3.0,-0.7,-1.4,-2.6,-1.9,-0.4,-2.2,-1.0,-2.9,-1.5,0.0,-2.4,-1.3,-0.8,-2.7,-1.7,-0.5,-2.0,-1.1,-3.2,-0.6,-1.8,-2.5,-1.4,-0.2,-2.3,-1.0,-2.8,-0.9,-1.6,-2.1,-0.4,-1.9,-3.0,-1.2,-0.7,-2.6,-1.5,-0.1,-2.4,-1.8,-0.6,-2.2,-1.3,-2.9,-0.8,-1.7,-2.5,-1.0,-0.3,-2.0,-1.4,-3.1,-0.5,-1.9,-2.3,-1.1,0.1,-2.7,-1.6,-0.7,-2.2,-1.2,-2.8,-0.4,-1.5,-2.5,-0.9,-1.8,-3.0,-1.3,-0.2,-2.1,-1.7,-0.6,-2.6,-1.0,-2.0,-0.8,-2.4,-1.4,-3.2,-0.5,-1.9,-2.2,-1.1,-0.3,-2.7,-1.6,-0.9,-2.3,-1.2,-2.9,-0.6,-1.8,-2.5,-1.0,-0.1,-2.1,-1.5,-2.8,-0.7,-1.3,-2.4,-0.4,-2.0,-1.7,-3.0,-0.9,-1.4,-2.6,-1.1,-0.2,-2.2,-1.6,-2.9,-0.8,-1.9,-2.4,-1.2,-0.5,-2.7,-1.5,-1.0];
const sigmaChain1A = [0.603,0.578,0.615,0.588,0.571,0.644,0.596,0.566,0.609,0.584,0.620,0.542,0.599,0.575,0.612,0.590,0.568,0.625,0.581,0.602,0.573,0.610,0.594,0.562,0.617,0.586,0.600,0.576,0.613,0.646,0.583,0.606,0.570,0.597,0.622,0.579,0.546,0.604,0.589,0.616,0.574,0.598,0.611,0.564,0.593,0.628,0.580,0.607,0.569,0.595,0.618,0.585,0.560,0.601,0.614,0.577,0.592,0.623,0.572,0.605,0.587,0.563,0.610,0.596,0.631,0.578,0.600,0.540,0.615,0.591,0.570,0.606,0.584,0.619,0.565,0.597,0.611,0.581,0.627,0.589,0.574,0.602,0.566,0.613,0.593,0.579,0.608,0.561,0.621,0.595,0.583,0.612,0.571,0.599,0.630,0.576,0.604,0.588,0.567,0.616,0.592,0.578,0.609,0.562,0.598,0.624,0.585,0.570,0.603,0.614,0.580,0.596,0.568,0.611,0.590,0.575,0.606,0.651,0.543,0.600,0.587,0.617,0.573,0.594,0.608,0.564,0.599,0.620,0.582,0.605,0.569,0.593,0.626,0.578,0.610,0.586,0.563,0.601,0.615,0.574,0.597,0.583,0.612,0.667,0.590,0.571,0.604,0.547,0.618,0.588];
const sigmaChain1B = [0.591,0.604,0.580,0.597,0.612,0.585,0.600,0.576,0.594,0.608,0.583,0.599,0.615,0.578,0.593,0.605,0.587,0.572,0.602,0.590,0.610,0.581,0.596,0.574,0.606,0.589,0.599,0.579,0.613,0.592,0.584,0.603,0.577,0.598,0.609,0.586,0.595,0.573,0.607,0.590,0.600,0.582,0.614,0.588,0.596,0.575,0.604,0.591,0.580,0.611,0.593,0.578,0.601,0.587,0.608,0.584,0.597,0.571,0.605,0.592,0.581,0.599,0.612,0.586,0.594,0.576,0.603,0.589,0.610,0.583,0.598,0.574,0.606,0.591,0.580,0.602,0.595,0.577,0.609,0.588,0.596,0.584,0.613,0.590,0.579,0.600,0.587,0.605,0.573,0.594,0.607,0.582,0.598,0.592,0.576,0.611,0.589,0.601,0.585,0.595,0.578,0.604,0.591,0.583,0.609,0.597,0.575,0.602,0.588,0.593,0.612,0.580,0.599,0.586,0.606,0.590,0.577,0.603,0.594,0.581,0.608,0.587,0.596,0.572,0.605,0.592,0.584,0.610,0.589,0.598,0.579,0.601,0.593,0.576,0.607,0.586,0.600,0.583,0.614,0.591,0.595,0.578,0.604,0.588,0.597,0.574,0.609,0.590,0.582,0.602];
const sigmaChain2A = [0.586,0.612,0.657,0.574,0.598,0.565,0.608,0.590,0.577,0.621,0.594,0.569,0.603,0.582,0.616,0.560,0.650,0.588,0.573,0.607,0.595,0.619,0.568,0.601,0.584,0.629,0.576,0.592,0.611,0.566,0.600,0.587,0.614,0.572,0.605,0.591,0.623,0.579,0.597,0.563,0.543,0.609,0.585,0.618,0.575,0.599,0.570,0.613,0.589,0.604,0.578,0.656,0.593,0.567,0.542,0.610,0.583,0.600,0.625,0.574,0.596,0.613,0.581,0.562,0.606,0.590,0.619,0.571,0.601,0.585,0.608,0.577,0.627,0.594,0.566,0.611,0.589,0.580,0.603,0.616,0.572,0.598,0.584,0.621,0.593,0.564,0.607,0.587,0.614,0.576,0.602,0.569,0.591,0.618,0.580,0.605,0.573,0.597,0.610,0.586,0.565,0.609,0.658,0.542,0.595,0.620,0.579,0.601,0.588,0.613,0.574,0.599,0.626,0.583,0.606,0.570,0.592,0.615,0.578,0.604,0.587,0.561,0.611,0.596,0.672,0.575,0.602,0.589,0.618,0.568,0.600,0.584,0.609,0.655,0.593,0.571,0.614,0.586,0.603,0.577,0.622,0.590,0.537,0.605,0.579,0.612,0.595,0.566,0.608,0.583];
const sigmaChain2B = [0.598,0.582,0.607,0.590,0.576,0.603,0.594,0.611,0.585,0.599,0.579,0.605,0.592,0.614,0.587,0.596,0.573,0.601,0.589,0.608,0.583,0.597,0.575,0.604,0.592,0.610,0.586,0.600,0.578,0.594,0.606,0.584,0.599,0.571,0.603,0.590,0.613,0.588,0.595,0.580,0.602,0.593,0.577,0.609,0.586,0.598,0.574,0.605,0.591,0.583,0.612,0.589,0.596,0.579,0.601,0.587,0.607,0.582,0.594,0.600,0.576,0.604,0.592,0.585,0.610,0.597,0.581,0.603,0.588,0.595,0.578,0.606,0.591,0.599,0.584,0.613,0.590,0.575,0.602,0.593,0.587,0.608,0.580,0.596,0.601,0.583,0.594,0.611,0.589,0.577,0.604,0.592,0.586,0.598,0.572,0.607,0.590,0.600,0.582,0.595,0.609,0.584,0.597,0.588,0.576,0.603,0.593,0.581,0.612,0.590,0.599,0.579,0.605,0.587,0.594,0.601,0.574,0.598,0.591,0.606,0.583,0.596,0.610,0.585,0.592,0.578,0.604,0.589,0.600,0.580,0.607,0.593,0.586,0.597,0.575,0.603,0.590,0.611,0.584,0.599,0.588,0.602,0.577,0.595,0.608,0.582,0.596,0.591,0.605,0.587];

// ---------------- CHART ----------------
function mergeSlots(even, odd) {
  const out = [];
  for (let i = 0; i < Math.max(even.length, odd.length); i++) {
    if (i < even.length) out.push(even[i]);
    if (i < odd.length) out.push(odd[i]);
  }
  return out;
}
const kdeCurves = [[interceptKde1, interceptKde2],[oKde1, oKde2],[cKde1, cKde2],[eKde1, eKde2],[aKde1, aKde2],[nKde1, nKde2],[sigmaKde1, sigmaKde2]];
const traces = [
  [mergeSlots(interceptChain1A, interceptChain1B), mergeSlots(interceptChain2A, interceptChain2B)],
  [mergeSlots(oChain1A, oChain1B), mergeSlots(oChain2A, oChain2B)],
  [mergeSlots(cChain1A, cChain1B), mergeSlots(cChain2A, cChain2B)],
  [mergeSlots(eChain1A, eChain1B), mergeSlots(eChain2A, eChain2B)],
  [mergeSlots(aChain1A, aChain1B), mergeSlots(aChain2A, aChain2B)],
  [mergeSlots(nChain1A, nChain1B), mergeSlots(nChain2A, nChain2B)],
  [mergeSlots(sigmaChain1A, sigmaChain1B), mergeSlots(sigmaChain2A, sigmaChain2B)]
];
const kdeTicks = [interceptKdeTicks, oKdeTicks, cKdeTicks, eKdeTicks, aKdeTicks, nKdeTicks, sigmaKdeTicks];
const traceTicks = [interceptTraceTicks, oTraceTicks, cTraceTicks, eTraceTicks, aTraceTicks, nTraceTicks, sigmaTraceTicks];
// axis limits (value range incl. 5% margins), shared by KDE x-axis and trace y-axis
const axisLimits = [[1.643, 4.657],[0.00125, 0.01083],[-0.00915, 0.00143],[-0.00195, 0.008753],[-0.02007, -0.00637],[-0.005757, 0.00429],[0.5294, 0.6774]];
const kdeDecimals = [1, 3, 3, 3, 3, 3, 2];
const traceDecimals = [0, 3, 4, 4, 3, 4, 2];

const FONT = 'DejaVu Sans';
const TEXT = '#262626';
const BLUE = '#2a2eec';
const fmt = d => v => { let s = Number(v).toFixed(d); if (/^-0\.?0*$/.test(s)) s = s.slice(1); return s.replace('-', '\u2212'); };

const grid = [], xAxis = [], yAxis = [], series = [], title = [];
const rowPitch = 200.5, rowTop0 = 30, rowH = 149;
const leftL = 33, rightL = 662, panelW = 540;

paramNames.forEach((name, r) => {
  const top = rowTop0 + r * rowPitch;
  const unit = valueUnits[r];
  const [lo, hi] = axisLimits[r];
  [leftL, rightL].forEach((left) => {
    grid.push({ left: left, top: top, width: panelW, height: rowH, show: true, backgroundColor: '#eeeeee', borderWidth: 0, containLabel: false });
    title.push({ text: name, left: left + panelW / 2, top: top - 24, textAlign: 'center', padding: 0,
      textStyle: { fontFamily: FONT, fontSize: 15.5, fontWeight: 'normal', color: TEXT, lineHeight: 18 } });
  });
  const gL = 2 * r, gR = 2 * r + 1;
  const labelStyle = { fontFamily: FONT, fontSize: 13.5, color: TEXT };
  xAxis.push({ gridIndex: gL, type: 'value', min: lo, max: hi, axisLine: { show: false },
    axisTick: { show: false, customValues: kdeTicks[r] },
    axisLabel: Object.assign({ customValues: kdeTicks[r], margin: 5, formatter: fmt(kdeDecimals[r]), showMinLabel: true, showMaxLabel: true }, labelStyle),
    splitLine: { show: true, lineStyle: { color: '#ffffff', width: 1 } } });
  yAxis.push({ gridIndex: gL, type: 'value', min: -0.05, max: 1.05, show: false, splitLine: { show: false } });
  xAxis.push({ gridIndex: gR, type: 'value', min: 0, max: drawsPerChain - 1, axisLine: { show: false },
    axisTick: { show: false, customValues: traceXTicks },
    axisLabel: Object.assign({ customValues: traceXTicks, margin: 5, formatter: v => String(Math.round(v)) }, labelStyle),
    splitLine: { show: true, lineStyle: { color: '#ffffff', width: 1 } } });
  yAxis.push({ gridIndex: gR, type: 'value', min: lo, max: hi, axisLine: { show: false },
    axisTick: { show: false, customValues: traceTicks[r] },
    axisLabel: Object.assign({ customValues: traceTicks[r], margin: 6, formatter: fmt(traceDecimals[r]) }, labelStyle),
    splitLine: { show: true, lineStyle: { color: '#ffffff', width: 1 } } });

  kdeCurves[r].forEach((curve, c) => {
    series.push({ type: 'line', xAxisIndex: gL, yAxisIndex: gL, showSymbol: false, symbol: 'none', smooth: 0.35, silent: true,
      data: curve.map(p => [p[0] * unit, p[1]]),
      lineStyle: { color: BLUE, width: 1.5, type: c === 0 ? 'solid' : [1.5, 2.5], cap: 'butt' }, z: 3 - c });
  });
  traces[r].forEach((chain, c) => {
    const n = chain.length;
    series.push({ type: 'line', xAxisIndex: gR, yAxisIndex: gR, showSymbol: false, symbol: 'none', silent: true,
      data: chain.map((v, i) => [Math.round(i * (drawsPerChain - 1) / (n - 1)), v * unit]),
      lineStyle: { color: BLUE, width: 1.4, opacity: 0.5, type: c === 0 ? 'solid' : [1.2, 1.6] } });
  });
});

const chart = echarts.init(document.getElementById('chart'), null, { renderer: 'canvas' });
chart.setOption({ animation: false, backgroundColor: '#ffffff', title, grid, xAxis, yAxis, series });
</script>
</body></html>
